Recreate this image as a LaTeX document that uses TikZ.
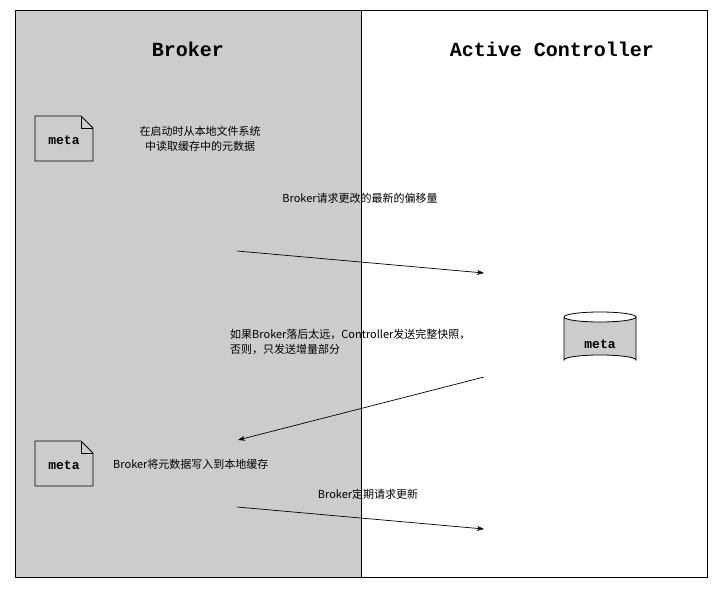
\documentclass[tikz,border=0pt]{standalone}
\usepackage{fontspec}
\setmainfont{Noto Sans CJK SC}
\newfontfamily\monof{Liberation Mono}
\usetikzlibrary{shapes.geometric,arrows.meta}
\definecolor{panel}{HTML}{CCCCCC}
\begin{document}
\begin{tikzpicture}[x=1pt,y=-1pt,
  lbl/.style={font=\fontsize{11}{15}\selectfont, align=center, inner sep=0},
  ttl/.style={font=\monof\bfseries\fontsize{20}{24}\selectfont, inner sep=0},
  arr/.style={-{Stealth[length=7pt,width=5pt]}, line width=0.7pt}]
\useasboundingbox (0,0) rectangle (718,597);
\fill[white] (0,0) rectangle (718,597);
\filldraw[fill=panel, draw=black, line width=0.8pt] (15,10) rectangle (361,577);
\draw[line width=0.8pt] (361,10) rectangle (707,577);
\node[ttl] (t1) at (188,49) {Broker};
\node[ttl] (t2) at (552,49) {Active Controller};
% documents
\foreach \n/\y in {d1/116, d2/441}{
  \draw[line width=0.8pt] (35,\y) -- (81,\y) -- (93,\y+12) -- (93,\y+45) -- (35,\y+45) -- cycle;
  \draw[line width=0.8pt] (81,\y) -- (81,\y+12) -- (93,\y+12);
}
\node[font=\monof\bfseries\fontsize{13}{15}\selectfont] (m1) at (64,140) {meta};
\node[font=\monof\bfseries\fontsize{13}{15}\selectfont] (m2) at (64,465) {meta};
% cylinder
\filldraw[fill=panel, line width=0.8pt] (564,317) -- (564,360) arc[start angle=180,end angle=360,x radius=36,y radius=5] -- (636,317) arc[start angle=0,end angle=180,x radius=36,y radius=5];
\draw[line width=0.8pt] (564,317) arc[start angle=180,end angle=360,x radius=36,y radius=5];
\node[font=\monof\bfseries\fontsize{13}{15}\selectfont] (db) at (600,344) {meta};
% labels
\node[lbl] (l1) at (200,139) {在启动时从本地文件系统\\中读取缓存中的元数据};
\node[lbl] (l2) at (360,198) {Broker请求更改的最新的偏移量};
\node[lbl, align=left, anchor=west] (l3) at (230,342) {如果Broker落后太远，Controller发送完整快照，\\否则，只发送增量部分};
\node[lbl, anchor=west] (l4) at (113,464) {Broker将元数据写入到本地缓存};
\node[lbl] (l5) at (368,494) {Broker定期请求更新};
% arrows
\coordinate (a1) at (237,251); \coordinate (b1) at (484,273);
\coordinate (a2) at (484,377); \coordinate (b2) at (238,440);
\coordinate (a3) at (237,507); \coordinate (b3) at (484,529);
\draw[arr] (a1) -- (b1);
\draw[arr] (a2) -- (b2);
\draw[arr] (a3) -- (b3);
\end{tikzpicture}
\end{document}
